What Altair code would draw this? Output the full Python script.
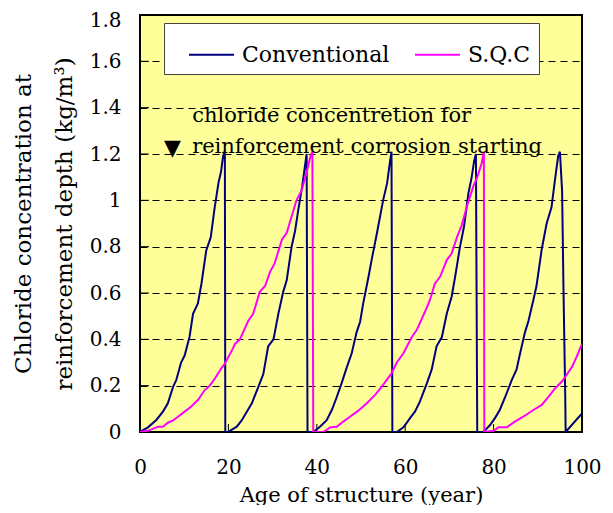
import altair as alt
import pandas as pd

# ---- data ----
series_names = ["Conventional", "S.Q.C"]
series_colors = ["#000080", "#FF00FF"]

conv_year = [0, 1.8, 3.7, 5.2, 6.3, 7.5, 8.2, 9.3, 10.1, 11.2, 12.0, 13.1, 13.9, 15.0, 16.0, 16.9, 17.8, 18.3, 18.8, 19.2, 19.3,
             19.9, 21.9, 23.0, 25.3, 26.8, 27.9, 29.0, 30.2, 31.3, 32.4, 33.2, 34.3, 35.1, 35.8, 36.7, 37.3, 37.7, 37.9,
             39.2, 40.7, 42.2, 43.4, 44.5, 45.6, 46.8, 47.9, 49.0, 49.8, 50.5, 51.7, 52.4, 53.6, 55.0, 55.9, 56.6, 56.9, 57.1,
             58.1, 59.6, 61.1, 62.2, 63.3, 64.9, 66.0, 67.1, 68.3, 69.4, 70.5, 71.3, 72.4, 73.3, 74.3, 75.0, 75.6, 76.0, 76.3,
             77.7, 79.2, 80.3, 81.4, 82.6, 84.1, 85.2, 86.0, 87.1, 87.9, 89.0, 89.7, 90.9, 92.0, 93.1, 93.9, 94.6, 95.0, 95.5,
             95.8, 96.2, 96.3, 100]
conv_val = [0, 0.02, 0.052, 0.088, 0.124, 0.196, 0.224, 0.30, 0.33, 0.41, 0.51, 0.555, 0.64, 0.785, 0.84, 0.97, 1.08, 1.12, 1.19, 1.214, 0,
            0, 0.023, 0.05, 0.124, 0.196, 0.25, 0.37, 0.40, 0.51, 0.605, 0.656, 0.80, 0.87, 0.958, 1.06, 1.145, 1.20, 0,
            0, 0.023, 0.05, 0.095, 0.15, 0.21, 0.28, 0.34, 0.43, 0.476, 0.555, 0.67, 0.742, 0.858, 1.0, 1.073, 1.174, 1.21, 0,
            0, 0.02, 0.06, 0.088, 0.13, 0.21, 0.27, 0.37, 0.41, 0.51, 0.584, 0.67, 0.80, 0.886, 1.03, 1.095, 1.17, 1.20, 0,
            0, 0.03, 0.06, 0.095, 0.15, 0.224, 0.27, 0.34, 0.43, 0.48, 0.57, 0.63, 0.79, 0.90, 0.97, 1.09, 1.19, 1.21, 1.04,
            0.63, 0.167, 0, 0.08]

sqc_year = [0, 1.8, 4.1, 5.2, 6.3, 7.5, 8.6, 10.1, 11.6, 13.1, 14.6, 15.8, 16.9, 18.4, 19.2, 21.0, 21.5, 22.6, 24.5, 25.6, 27.1,
            28.3, 29.4, 30.5, 32.1, 33.2, 34.3, 35.4, 36.6, 37.7, 38.5, 39.0, 39.2,
            41.5, 43.0, 44.5, 46.0, 47.5, 49.4, 51.3, 53.2, 54.7, 55.8, 56.9, 58.1, 59.6, 61.5, 62.6, 64.5, 65.6, 66.7, 67.9,
            69.4, 70.5, 71.7, 72.8, 73.9, 75.4, 76.3, 77.3, 77.8, 77.9,
            80.0, 81.1, 83.0, 84.8, 86.7, 89.0, 90.9, 92.4, 93.9, 95.4, 96.5, 97.7, 98.8, 100]
sqc_val = [0, 0.005, 0.023, 0.023, 0.04, 0.05, 0.066, 0.088, 0.11, 0.138, 0.18, 0.2, 0.23, 0.275, 0.295, 0.36, 0.38, 0.40, 0.48, 0.51, 0.605,
           0.63, 0.69, 0.73, 0.83, 0.86, 0.93, 1.0, 1.045, 1.12, 1.185, 1.21, 0,
           0, 0.02, 0.023, 0.045, 0.066, 0.092, 0.124, 0.16, 0.196, 0.224, 0.253, 0.30, 0.34, 0.41, 0.44, 0.52, 0.57, 0.64, 0.67,
           0.742, 0.77, 0.84, 0.893, 0.97, 1.06, 1.10, 1.16, 1.21, 0,
           0.005, 0.02, 0.02, 0.045, 0.066, 0.095, 0.117, 0.152, 0.188, 0.217, 0.246, 0.28, 0.325, 0.38]

x_ticks = [0, 20, 40, 60, 80, 100]
y_ticks = [0, 0.2, 0.4, 0.6, 0.8, 1.0, 1.2, 1.4, 1.6, 1.8]
inner_x_ticks = [20, 40, 60, 80]
inner_y_ticks = [0.2, 0.4, 0.6, 0.8, 1.0, 1.2, 1.4, 1.6]

note_lines = ["chloride concentretion for", "reinforcement corrosion starting"]
note_year = [11.8, 11.8]
note_val = [1.338, 1.204]
marker_text = ["\u25BC"]
marker_year = [7.35]
marker_val = [1.225]

# ---- tables ----
rows = []
for i, (x, v) in enumerate(zip(conv_year, conv_val)):
    rows.append({"series": series_names[0], "year": x, "value": v, "idx": i})
for i, (x, v) in enumerate(zip(sqc_year, sqc_val)):
    rows.append({"series": series_names[1], "year": x, "value": v, "idx": i})
df = pd.DataFrame(rows)

note_df = pd.DataFrame({"year": note_year, "value": note_val, "text": note_lines})
marker_df = pd.DataFrame({"year": marker_year, "value": marker_val, "text": marker_text})
xt_df = pd.DataFrame({"year": inner_x_ticks})
yt_df = pd.DataFrame({"value": inner_y_ticks})

SERIF = "'DejaVu Serif', 'Liberation Serif', serif"
W, H = 442, 417

xscale = alt.Scale(domain=[0, 100], nice=False, zero=False)
yscale = alt.Scale(domain=[0, 1.8], nice=False)

lines = alt.Chart(df).mark_line(strokeWidth=2, clip=True).encode(
    x=alt.X("year:Q", scale=xscale,
            axis=alt.Axis(values=x_ticks, title="Age of structure (year)", grid=False, ticks=False,
                          domain=False, labelFont=SERIF, labelFontSize=20, labelColor="black",
                          labelPadding=25, titleFont=SERIF, titleFontSize=21, titleFontWeight="normal",
                          titleColor="black", titlePadding=7, labelFlush=False)),
    y=alt.Y("value:Q", scale=yscale,
            axis=alt.Axis(values=y_ticks, format="~g", grid=True, gridDash=[7, 5], gridColor="black",
                          gridWidth=1, gridOpacity=1, ticks=False, domain=False,
                          title=["Chloride concentration at", "reinforcement depth (kg/m\u00b3)"],
                          labelFont=SERIF, labelFontSize=20, labelColor="black", labelPadding=19,
                          labelOffset={"condition": {"test": "datum.value > 1.7", "value": 5}, "value": 0},
                          titleFont=SERIF, titleFontSize=23, titleFontWeight="normal", titleColor="black",
                          titleLineHeight=41, titlePadding=13, labelFlush=False)),
    color=alt.Color("series:N", scale=alt.Scale(domain=series_names, range=series_colors),
                    legend=alt.Legend(orient="none", legendX=24, legendY=8, direction="horizontal",
                                      title=None, fillColor="white", strokeColor="#444444",
                                      padding=8, labelFont=SERIF, labelFontSize=22, labelColor="black",
                                      symbolType="stroke", symbolSize=2025, symbolStrokeWidth=2,
                                      symbolOffset=16, labelOffset=7, columnPadding=8)),
    order="idx:Q",
)

xt = alt.Chart(xt_df).mark_rule(color="black", strokeWidth=1).encode(
    x=alt.X("year:Q", scale=xscale), y=alt.value(H), y2=alt.value(H - 8))
yt = alt.Chart(yt_df).mark_rule(color="black", strokeWidth=1).encode(
    y=alt.Y("value:Q", scale=yscale), x=alt.value(0), x2=alt.value(9))

notes = alt.Chart(note_df).mark_text(align="left", baseline="alphabetic", font=SERIF, fontSize=21,
                                     color="black").encode(
    x=alt.X("year:Q", scale=xscale), y=alt.Y("value:Q", scale=yscale), text="text:N")
marker = alt.Chart(marker_df).mark_text(align="center", baseline="middle", font="DejaVu Sans",
                                        fontSize=22, color="black").encode(
    x=alt.X("year:Q", scale=xscale), y=alt.Y("value:Q", scale=yscale), text="text:N")

chart = alt.layer(yt, xt, lines, notes, marker).properties(
    width=W, height=H,
    background="white",
    autosize=alt.AutoSizeParams(type="none"),
    padding={"left": 132, "top": 7, "right": 20, "bottom": 73},
).configure_view(
    fill="#FFFF99", stroke="black", strokeWidth=2
)

chart.save("out.html", embed_options={"renderer": "svg", "actions": False})
